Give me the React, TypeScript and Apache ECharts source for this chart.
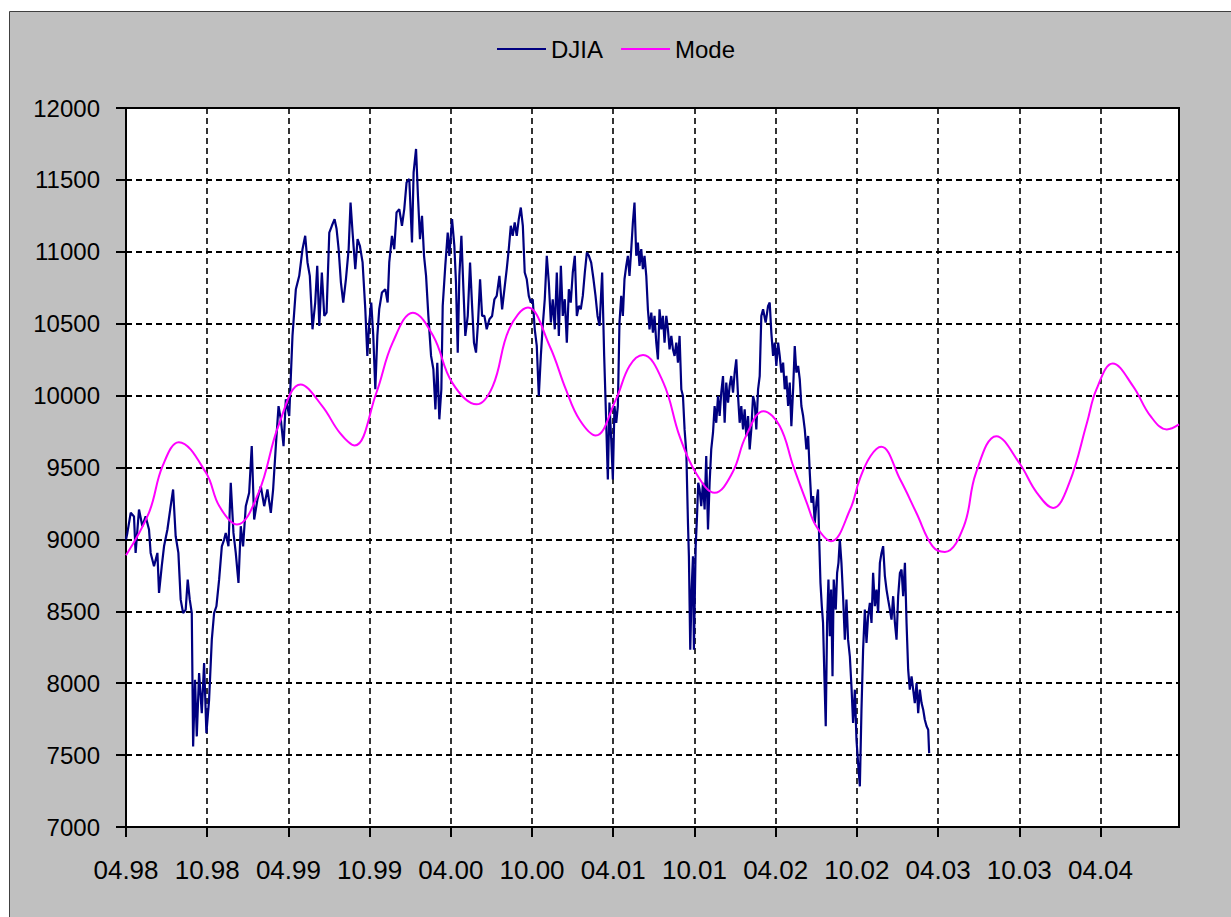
import React, { useEffect, useRef } from "react";
import * as echarts from "echarts";

// X axis is measured in months since April 1998
const xTickLabels = ["04.98", "10.98", "04.99", "10.99", "04.00", "10.00", "04.01", "10.01", "04.02", "10.02", "04.03", "10.03", "04.04"];
const xMaxMonth = 77.8;
const yMin = 7000;
const yMax = 12000;
const yStep = 500;
const seriesNames = ["DJIA", "Mode"];

const djiaMonths = [
  0.0, 0.1, 0.35, 0.59, 0.71, 0.96, 1.21, 1.45, 1.7, 1.82, 2.07, 2.32, 2.44, 2.64, 2.81, 3.06, 3.3, 3.48, 3.67, 3.87,
  4.04, 4.22, 4.41, 4.56, 4.71, 4.86, 4.96, 5.1, 5.23, 5.4, 5.6, 5.77, 5.94, 6.14, 6.34, 6.51, 6.68, 6.88, 7.08, 7.25,
  7.37, 7.57, 7.74, 7.94, 8.11, 8.31, 8.48, 8.65, 8.85, 9.1, 9.29, 9.47, 9.71, 9.96, 10.21, 10.45, 10.7, 10.87, 11.07, 11.27,
  11.44, 11.64, 11.81, 12.06,
  12.3, 12.55, 12.8, 13.04, 13.24, 13.41, 13.58, 13.78, 13.98, 14.13, 14.28, 14.47, 14.65, 14.82, 15.02, 15.21, 15.41, 15.56,
  15.71, 15.88, 16.05, 16.25, 16.45, 16.59, 16.74, 16.94, 17.11, 17.28, 17.48, 17.68, 17.83, 17.97, 18.12, 18.27, 18.42, 18.57,
  18.71, 18.91, 19.16, 19.33, 19.45, 19.65, 19.82, 19.99, 20.19, 20.39, 20.56, 20.73, 20.93, 21.13, 21.25, 21.43, 21.57, 21.72,
  21.87, 22.02, 22.17, 22.34, 22.54, 22.71, 22.86, 23.0, 23.15, 23.3,
  23.4, 23.59, 23.77, 23.89, 24.09, 24.26, 24.38, 24.51, 24.63, 24.78, 24.93, 25.07, 25.25, 25.42, 25.57, 25.71, 25.86, 26.01,
  26.16, 26.31, 26.48, 26.65, 26.85, 27.05, 27.22, 27.39, 27.59, 27.79, 27.96, 28.13, 28.28, 28.43, 28.57, 28.72, 28.87, 29.02,
  29.17, 29.32, 29.46, 29.61, 29.76, 29.91, 30.05, 30.2, 30.35, 30.5, 30.65, 30.79, 30.94, 31.09, 31.24, 31.39, 31.53, 31.68,
  31.83, 31.98, 32.13, 32.27, 32.42, 32.57, 32.72, 32.86, 33.01, 33.16, 33.31, 33.46, 33.6, 33.75, 33.9, 34.05, 34.2, 34.37,
  34.54, 34.69, 34.84, 34.99,
  35.18, 35.33, 35.48, 35.6, 35.72, 35.85, 35.97, 36.09, 36.22, 36.34, 36.46, 36.59, 36.71, 36.83, 36.96, 37.08, 37.2, 37.33,
  37.45, 37.57, 37.7, 37.82, 37.94, 38.07, 38.19, 38.31, 38.44, 38.56, 38.68, 38.81, 38.93, 39.05, 39.18, 39.3, 39.42, 39.55,
  39.67, 39.79, 39.92, 40.04, 40.16, 40.29, 40.41, 40.53, 40.66, 40.78, 40.9, 41.03, 41.15, 41.27, 41.4, 41.52, 41.59, 41.69,
  41.79, 41.89, 41.96, 42.09, 42.18, 42.28, 42.38, 42.5, 42.63, 42.75, 42.87, 43.0, 43.12, 43.24, 43.37, 43.49, 43.61, 43.74,
  43.86, 43.98, 44.11, 44.23, 44.35, 44.48, 44.6, 44.72, 44.85, 44.97, 45.09, 45.22, 45.34, 45.46, 45.59, 45.71, 45.83, 45.96,
  46.08, 46.2, 46.33, 46.45, 46.57, 46.7, 46.82,
  46.94, 47.07, 47.26, 47.44, 47.56, 47.68, 47.81, 47.93, 48.05, 48.18, 48.3, 48.42, 48.55, 48.67, 48.79, 48.92, 49.04, 49.16,
  49.29, 49.41, 49.53, 49.66, 49.78, 49.9, 50.03, 50.15, 50.27, 50.4, 50.52, 50.64, 50.77, 50.89, 51.01, 51.13, 51.21, 51.31,
  51.41, 51.5, 51.6, 51.7, 51.8, 51.9, 52.0, 52.1, 52.2, 52.29, 52.44, 52.54, 52.64, 52.74, 52.86, 52.98, 53.11, 53.23,
  53.35, 53.48, 53.6, 53.72, 53.85, 53.97, 54.09, 54.22, 54.34, 54.46, 54.59, 54.71, 54.83, 54.96, 55.08, 55.2, 55.33, 55.45,
  55.57, 55.7, 55.82, 55.94, 56.07, 56.19, 56.31, 56.44, 56.56, 56.68, 56.81, 56.93, 57.05, 57.18, 57.3, 57.42, 57.55, 57.67,
  57.79, 57.91, 58.04, 58.16, 58.28, 58.41, 58.53, 58.65, 58.78, 58.9, 59.02, 59.15, 59.27, 59.34,
];

const djiaValues = [
  9000, 9045, 9185, 9160, 8906, 9208, 9092, 9160, 9069, 8906, 8813, 8906, 8628, 8813, 8952, 9069, 9231, 9347, 9022, 8906,
  8581, 8488, 8512, 8720, 8581, 8488, 7560, 8024, 7630, 8070, 7792, 8140, 7653, 7885, 8303, 8488, 8535, 8720, 8952, 8999,
  9045, 8952, 9394, 9045, 8906, 8697, 9092, 8952, 9231, 9324, 9649, 9138, 9277, 9370, 9231, 9347, 9185, 9347, 9649, 9927,
  9834, 9649, 9974, 9858,
  10415, 10740, 10833, 11018, 11111, 10926, 10833, 10461, 10647, 10902, 10485, 10856, 10554, 10577, 11134, 11181, 11227, 11158,
  11018, 10786, 10647, 10810, 11018, 11343, 11134, 10879, 11088, 11042, 10926, 10601, 10276, 10508, 10647, 10415, 10044, 10415,
  10601, 10717, 10740, 10647, 10926, 11111, 11018, 11274, 11297, 11181, 11297, 11483, 11506, 11065, 11552, 11715, 11390, 11088,
  11250, 10972, 10833, 10554, 10276, 10183, 9904, 10229, 9835, 10044,
  10624, 10902, 11134, 10972, 11227, 11041, 10786, 10299, 10833, 11111, 10740, 10415, 10554, 10925, 10624, 10368, 10299, 10508,
  10809, 10554, 10554, 10461, 10531, 10554, 10670, 10693, 10833, 10600, 10740, 10879, 11018, 11181, 11111, 11204, 11111, 11227,
  11308, 11181, 10856, 10809, 10693, 10647, 10670, 10461, 10345, 9997, 10276, 10485, 10670, 10972, 10786, 10508, 10670, 10461,
  10856, 10415, 10902, 10554, 10670, 10368, 10740, 10647, 10856, 10972, 10554, 10624, 10600, 10693, 10856, 10995, 10972, 10925,
  10809, 10693, 10554, 10485,
  10856, 10276, 9811, 9417, 9951, 9695, 9417, 9927, 9811, 9927, 10508, 10693, 10554, 10809, 10902, 10972, 10833, 11018,
  11204, 11343, 10972, 11065, 10902, 11018, 10879, 10972, 10833, 10600, 10461, 10577, 10438, 10554, 10368, 10252, 10600, 10461,
  10554, 10368, 10554, 10461, 10322, 10415, 10322, 10276, 10368, 10229, 10415, 10043, 9997, 9765, 9602, 9115, 8883, 8233,
  8651, 8883, 8233, 8953, 9138, 9394, 9347, 9231, 9394, 9208, 9579, 9069, 9394, 9626, 9742, 9927, 9811, 9997,
  9858, 10020, 10136, 9811, 10090, 9951, 10067, 10136, 10020, 10159, 10252, 9997, 9811, 9927, 9765, 9904, 9718, 9858,
  9626, 9765, 9997, 9951, 9765, 10043, 10136,
  10554, 10601, 10508, 10624, 10647, 10438, 10276, 10369, 10206, 10369, 10276, 10160, 10229, 10044, 10137, 9928, 10090, 9788,
  10044, 10345, 10160, 10206, 10113, 9928, 9858, 9765, 9626, 9719, 9463, 9255, 9301, 9115, 9255, 9347, 9022, 8698,
  8535, 8419, 8048, 7700, 8419, 8721, 8326, 8651, 8048, 8721, 8512, 8767, 8837, 9000, 8837, 8605, 8303, 8581,
  8303, 8187, 7978, 7723, 7955, 7607, 7444, 7282, 7816, 8233, 8512, 8280, 8465, 8558, 8419, 8767, 8535, 8651,
  8489, 8837, 8906, 8953, 8744, 8651, 8581, 8512, 8442, 8605, 8419, 8303, 8605, 8767, 8790, 8605, 8837, 8419,
  8094, 7955, 8048, 7955, 7862, 8001, 7792, 7955, 7862, 7816, 7746, 7700, 7676, 7514,
];

const modeMonths = [
  0, 1.7, 2.7, 3.9, 5.9, 6.9, 8.2, 9.8, 11.3, 12.9, 14.5, 15.8, 16.9, 18.5, 19.7, 21.2, 22.7, 24.1, 25.9, 27.1,
  28.3, 29.7, 31.3, 32.5, 33.5, 34.7, 36.2, 37.2, 38.2, 39.7, 40.9, 42.1, 43.5, 44.8, 45.8, 47.1, 48.3, 49.3, 50.3, 51.0,
  52.1, 53.5, 54.2, 55.0, 55.8, 57.2, 58.4, 59.6, 60.5, 61.9, 62.8, 64.3, 66.0, 67.3, 68.5, 69.7, 71.0, 71.7, 72.9, 74.4,
  75.7, 76.9, 77.8,
];
const modeValues = [
  8890, 9187, 9509, 9676, 9465, 9230, 9103, 9326, 9800, 10078, 9927, 9741, 9653, 10020, 10368, 10577, 10414, 10090, 9939, 10066,
  10461, 10612, 10345, 10043, 9834, 9723, 9974, 10206, 10282, 10090, 9718, 9463, 9324, 9463, 9718, 9892, 9788, 9509, 9254, 9091,
  8987, 9208, 9416, 9578, 9644, 9416, 9184, 8951, 8913, 9091, 9463, 9718, 9531, 9324, 9219, 9394, 9811, 10043, 10224, 10066,
  9857, 9765, 9800,
];

const tickFont = "'Liberation Sans', Arial, sans-serif";

export default function App() {
  const ref = useRef<HTMLDivElement>(null);
  useEffect(() => {
    if (!ref.current) return;
    const chart = echarts.init(ref.current, null, { renderer: "svg" });
    const djiaData = djiaMonths.map((m, i) => [m, djiaValues[i]]);
    const modeData = modeMonths.map((m, i) => [m, modeValues[i]]);
    chart.setOption({
      animation: false,
      backgroundColor: "#ffffff",
      graphic: [
        {
          type: "rect",
          z: -100,
          silent: true,
          shape: { x: 9.5, y: 11.5, width: 1240, height: 920 },
          style: { fill: "#c0c0c0", stroke: "#404040", lineWidth: 1 },
        },
      ],
      legend: {
        left: 497,
        top: 37,
        padding: 0,
        itemWidth: 49,
        itemHeight: 2,
        itemGap: 18,
        icon: "rect",
        selectedMode: false,
        data: seriesNames,
        textStyle: { fontFamily: "'Liberation Sans', Arial, sans-serif", fontSize: 24, color: "#000", lineHeight: 24 },
      },
      grid: {
        left: 126,
        top: 108,
        right: 52,
        bottom: 90,
        show: true,
        backgroundColor: "#ffffff",
        borderColor: "#000000",
        borderWidth: 2,
      },
      xAxis: {
        type: "value",
        min: 0,
        max: xMaxMonth,
        interval: 6,
        axisLine: { show: true, onZero: false, lineStyle: { color: "#000", width: 2 } },
        axisTick: { show: true, length: 10, lineStyle: { color: "#000", width: 2 } },
        axisLabel: {
          showMaxLabel: false,
          margin: 30,
          color: "#000",
          fontSize: 26,
          fontFamily: tickFont,
          formatter: (v: number) => xTickLabels[Math.round(v / 6)] ?? "",
        },
        splitLine: { show: true, lineStyle: { color: "#000", width: 1.6, type: [6, 4] } },
      },
      yAxis: {
        type: "value",
        min: yMin,
        max: yMax,
        interval: yStep,
        axisLine: { show: true, lineStyle: { color: "#000", width: 2 } },
        axisTick: { show: true, length: 10, lineStyle: { color: "#000", width: 2 } },
        axisLabel: {
          margin: 26,
          color: "#000",
          fontSize: 24,
          fontFamily: tickFont,
          formatter: (v: number) => String(v),
        },
        splitLine: { show: true, lineStyle: { color: "#000", width: 2, type: [6, 4] } },
      },
      series: [
        {
          name: seriesNames[0],
          type: "line",
          data: djiaData,
          showSymbol: false,
          symbol: "none",
          lineStyle: { color: "#000080", width: 2.2 },
          itemStyle: { color: "#000080" },
        },
        {
          name: seriesNames[1],
          type: "line",
          data: modeData,
          smooth: 0.4,
          showSymbol: false,
          symbol: "none",
          lineStyle: { color: "#ff00ff", width: 2 },
          itemStyle: { color: "#ff00ff" },
        },
      ],
    });
    return () => chart.dispose();
  }, []);
  return (
    <div
      ref={ref}
      style={{ position: "fixed", left: 0, top: 0, width: 1231, height: 917, background: "#fff" }}
    />
  );
}
